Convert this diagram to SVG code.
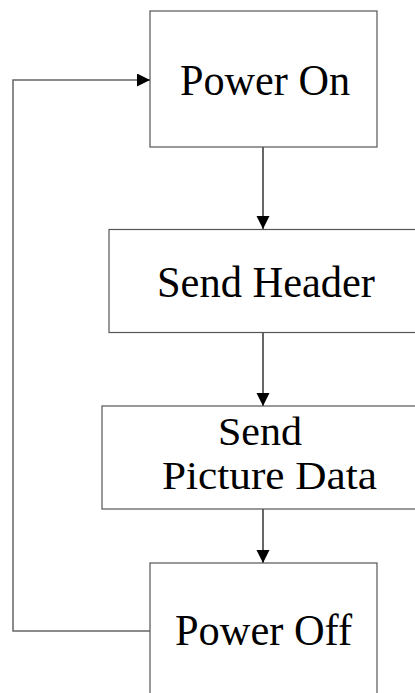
<svg xmlns="http://www.w3.org/2000/svg" width="415" height="693" viewBox="0 0 415 693">
<style>
.box{fill:#fff;stroke:#555;stroke-width:1.2}
.lbl{font-family:"Liberation Serif","Times New Roman",serif;font-size:45px;fill:#000}
.small{font-size:39px}
.conn{fill:none;stroke:#000;stroke-width:1.2}
.back{fill:none;stroke:#666;stroke-width:1.5}
</style>
<defs>
<marker id="ah" markerUnits="userSpaceOnUse" markerWidth="14" markerHeight="14" refX="13" refY="6.5" orient="auto">
<path d="M0,0 L13,6.5 L0,13 Z" fill="#000"/>
</marker>
</defs>
<rect width="415" height="693" fill="#fff"/>
<g id="connectors">
<line class="conn" x1="263" y1="147" x2="263" y2="229" marker-end="url(#ah)"/>
<line class="conn" x1="263" y1="332.5" x2="263" y2="406" marker-end="url(#ah)"/>
<line class="conn" x1="263" y1="509" x2="263" y2="563" marker-end="url(#ah)"/>
<polyline class="back" points="150,631 13,631 13,80 138,80"/>
<line class="conn" x1="137" y1="80" x2="150" y2="80" marker-end="url(#ah)"/>
</g>
<g id="power-on">
<rect class="box" x="150" y="11" width="227" height="136"/>
<text class="lbl" x="180" y="95" textLength="170" lengthAdjust="spacingAndGlyphs">Power On</text>
</g>
<g id="send-header">
<rect class="box" x="109" y="229.5" width="320" height="103"/>
<text class="lbl" x="157" y="297" textLength="218" lengthAdjust="spacingAndGlyphs">Send Header</text>
</g>
<g id="send-picture-data">
<rect class="box" x="102" y="406" width="330" height="103"/>
<text class="lbl small"><tspan x="218" y="445" textLength="84" lengthAdjust="spacingAndGlyphs">Send</tspan><tspan x="162" y="489" textLength="215" lengthAdjust="spacingAndGlyphs">Picture Data</tspan></text>
</g>
<g id="power-off">
<rect class="box" x="150" y="563" width="227" height="150"/>
<text class="lbl" x="175" y="645" textLength="177" lengthAdjust="spacingAndGlyphs">Power Off</text>
</g>
</svg>
